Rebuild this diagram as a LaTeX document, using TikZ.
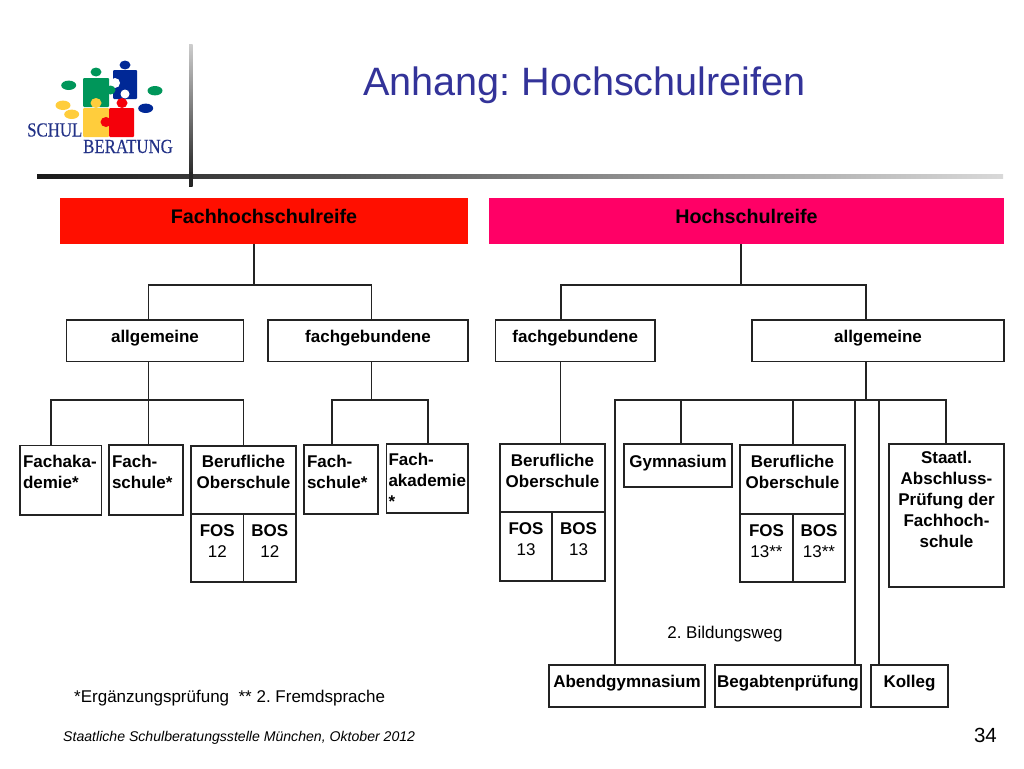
\documentclass[tikz,border=0pt]{standalone}
\usepackage{fontspec}
\setmainfont{Liberation Sans}
\newfontfamily\logofont[FakeStretch=0.84,FakeBold=0.4]{Liberation Serif}
\usetikzlibrary{calc}
\definecolor{titleblue}{RGB}{51,51,153}
\definecolor{logonavy}{RGB}{35,50,135}
\definecolor{fhred}{RGB}{255,15,0}
\definecolor{hspink}{RGB}{255,0,102}
\definecolor{pzgreen}{RGB}{0,150,90}
\definecolor{pzblue}{RGB}{0,40,150}
\definecolor{pzyellow}{RGB}{255,205,60}
\definecolor{pzred}{RGB}{245,0,10}
\definecolor{linegray}{RGB}{35,35,35}
\tikzset{
  boxbase/.style={draw=linegray,line width=1.2pt,inner sep=0pt,outer sep=0pt,font=\fontsize{17}{21}\selectfont\bfseries},
  headbox/.style={inner sep=0pt,outer sep=0pt,font=\fontsize{19.7}{22}\selectfont\bfseries},
  conn/.style={draw=linegray,line width=1.2pt},
  plaintext/.style={inner sep=0pt,font=\fontsize{17}{20}\selectfont},
}
\frenchspacing
% name, x1, y1, x2, y2, first baseline offset, alignment, text, style
\newcommand{\mybox}[9]{%
  \pgfmathsetmacro{\bw}{#4-#2}\pgfmathsetmacro{\bh}{#5-#3}%
  \pgfmathsetmacro{\bcx}{(#4+#2)/2}\pgfmathsetmacro{\bcy}{(#5+#3)/2}%
  \node[#9] (#1) at (\bcx,\bcy) {\parbox[c][\bh pt][t]{\bw pt}{#7\rule{0pt}{#6pt}#8}};%
}
\newcommand{\ctr}{\centering}
\newcommand{\lft}{\raggedright\hspace*{3pt}}
\begin{document}
\begin{tikzpicture}[x=1pt,y=-1pt]
\useasboundingbox (0,0) rectangle (1024,768);
% decorative rules
\shade[top color=black!20,bottom color=black!90] (189,45) rectangle (192.5,186);
\shade[left color=black!90,right color=black!15] (37,174) rectangle (1003,178);
\fill[black!85] (189,172) rectangle (192.5,186);
% logo
\fill[pzgreen,rounded corners=1pt] (83,78) rectangle (109,107);
\fill[pzgreen] (96,72) ellipse (5.5 and 4.5);
\fill[pzblue,rounded corners=1pt] (113,70) rectangle (137,99);
\fill[pzblue] (125,65) ellipse (5.5 and 4.5);
\fill[white] (115,83) ellipse (5 and 5);
\fill[white] (125,94) ellipse (4.5 and 4.5);
\fill[pzgreen] (110.5,90) ellipse (5 and 4.5);
\fill[pzyellow,rounded corners=1pt] (83,108) rectangle (109,137);
\fill[pzyellow] (96,103) ellipse (5.5 and 5);
\fill[pzred,rounded corners=1pt] (109,108) rectangle (134,137);
\fill[pzred] (122,103) ellipse (5.5 and 5);
\fill[pzred] (106,122) ellipse (5.5 and 5);
\fill[pzgreen] (68.7,85.3) ellipse (7.5 and 4.7);
\fill[pzgreen] (155,90.7) ellipse (7.5 and 4.7);
\fill[pzyellow] (63,105.3) ellipse (7.5 and 4.7);
\fill[pzyellow] (71.7,114.3) ellipse (7.5 and 4.7);
\fill[pzblue] (145.7,108.3) ellipse (7.5 and 4.7);
\node[anchor=base west,inner sep=0pt,text=logonavy,font=\fontsize{20}{20}\selectfont\logofont] (logoa) at (27,136.5) {SCHUL};
\node[anchor=base west,inner sep=0pt,text=logonavy,font=\fontsize{20}{20}\selectfont\logofont] (logob) at (83,153) {BERATUNG};
% title
\node[anchor=base,inner sep=0pt,text=titleblue,font=\fontsize{39.6}{44}\selectfont] (title) at (584.5,95) {Anhang: Hochschulreifen};
% headers
\mybox{fhr}{60}{198}{468}{244}{25}{\ctr}{Fachhochschulreife}{headbox,fill=fhred}
\mybox{hsr}{489}{198}{1004}{244}{25}{\ctr}{Hochschulreife}{headbox,fill=hspink}
% second level
\mybox{ag1}{66.5}{320}{243.5}{361.5}{22}{\ctr}{allgemeine}{boxbase}
\mybox{fg1}{268}{320}{468}{361.5}{22}{\ctr}{fachgebundene}{boxbase}
\mybox{fg2}{495.5}{320}{655}{361.5}{22}{\ctr}{fachgebundene}{boxbase}
\mybox{ag2}{752}{320}{1004}{361.5}{22}{\ctr}{allgemeine}{boxbase}
% third level left
\mybox{fak}{20}{445.5}{101.5}{515}{22}{\lft}{Fachaka-\\\hspace*{3pt}demie*}{boxbase}
\mybox{fs1}{109}{445}{183}{515}{22}{\lft}{Fach-\\\hspace*{3pt}schule*}{boxbase}
\mybox{bo1}{191}{446}{296}{514}{21}{\ctr}{Berufliche\\Oberschule}{boxbase}
\mybox{fos1}{191}{514}{243.5}{582}{22}{\ctr}{FOS\\\mdseries 12}{boxbase}
\mybox{bos1}{243.5}{514}{296}{582}{22}{\ctr}{BOS\\\mdseries 12}{boxbase}
\mybox{fs2}{304}{445}{378}{514}{22}{\lft}{Fach-\\\hspace*{3pt}schule*}{boxbase}
\mybox{fa2}{386.5}{444}{468}{513}{21}{\raggedright\hspace*{2pt}}{Fach-\\\hspace*{2pt}akademie\\\hspace*{2pt}*}{boxbase}
% third level right
\mybox{bo2}{500}{444}{605}{512}{22}{\ctr}{Berufliche\\Oberschule}{boxbase}
\mybox{fos2}{500}{512}{552}{581}{22}{\ctr}{FOS\\\mdseries 13}{boxbase}
\mybox{bos2}{552}{512}{605}{581}{22}{\ctr}{BOS\\\mdseries 13}{boxbase}
\mybox{gym}{624}{444}{732}{487}{23}{\ctr}{Gymnasium}{boxbase}
\mybox{bo3}{740}{445}{845}{514}{22}{\ctr}{Berufliche\\Oberschule}{boxbase}
\mybox{fos3}{740}{514}{793}{582}{22}{\ctr}{FOS\\\mdseries 13**}{boxbase}
\mybox{bos3}{793}{514}{845}{582}{22}{\ctr}{BOS\\\mdseries 13**}{boxbase}
\mybox{sta}{889}{444}{1004}{587}{19.5}{\ctr}{Staatl.\\Abschluss-\\Prüfung der\\Fachhoch-\\schule}{boxbase}
\mybox{abe}{549}{665}{705}{707}{22}{\ctr}{Abendgymnasium}{boxbase}
\mybox{beg}{715}{665}{861}{707}{22}{\ctr}{Begabtenprüfung}{boxbase}
\mybox{kol}{871}{665}{948}{707}{22}{\ctr}{Kolleg}{boxbase}
% connectors
\coordinate (j1) at (254,285); \coordinate (l1) at (148.5,285); \coordinate (r1) at (371.5,285);
\draw[conn] (j1) -- (j1 |- fhr.south); \draw[conn] (l1 |- ag1.north) -- (l1) -- (r1) -- (r1 |- fg1.north);
\coordinate (j2) at (741,285); \coordinate (l2) at (561,285); \coordinate (r2) at (866,285);
\draw[conn] (j2) -- (j2 |- hsr.south); \draw[conn] (l2 |- fg2.north) -- (l2) -- (r2) -- (r2 |- ag2.north);
\coordinate (j3) at (148.5,400); \coordinate (a1) at (51,400); \coordinate (a2) at (243.5,400);
\draw[conn] (j3 |- ag1.south) -- (j3 |- fs1.north);
\draw[conn] (a1 |- fak.north) -- (a1) -- (a2) -- (a2 |- bo1.north);
\coordinate (j4) at (371.5,400); \coordinate (b1) at (332,400); \coordinate (b2) at (428,400);
\draw[conn] (j4 |- fg1.south) -- (j4);
\draw[conn] (b1 |- fs2.north) -- (b1) -- (b2) -- (b2 |- fa2.north);
\coordinate (c1) at (560.5,400);
\draw[conn] (c1 |- fg2.south) -- (c1 |- bo2.north);
\coordinate (j5) at (866,400); \coordinate (d1) at (615,400); \coordinate (d2) at (681,400); \coordinate (d3) at (793,400); \coordinate (d4) at (855,400); \coordinate (d5) at (879,400); \coordinate (d6) at (946,400);
\draw[conn] (j5 |- ag2.south) -- (j5);
\draw[conn] (d1 |- abe.north) -- (d1) -- (d6) -- (d6 |- sta.north);
\draw[conn] (d2) -- (d2 |- gym.north);
\draw[conn] (d3) -- (d3 |- bo3.north);
\draw[conn] (d4) -- (d4 |- beg.north);
\draw[conn] (d5) -- (d5 |- kol.north);
% free texts
\node[plaintext,anchor=base] (bw) at (725,638) {2. Bildungsweg};
\node[anchor=base west,inner sep=0pt,font=\fontsize{17}{20}\selectfont] (note) at (74,702) {*Ergänzungsprüfung\ \ ** 2. Fremdsprache};
\node[anchor=base west,inner sep=0pt,font=\fontsize{14.1}{16}\selectfont\itshape] (foot) at (63,741) {Staatliche Schulberatungsstelle München, Oktober 2012};
\node[anchor=base east,inner sep=0pt,font=\fontsize{20.5}{22}\selectfont] (page) at (997,742) {34};
\end{tikzpicture}
\end{document}
